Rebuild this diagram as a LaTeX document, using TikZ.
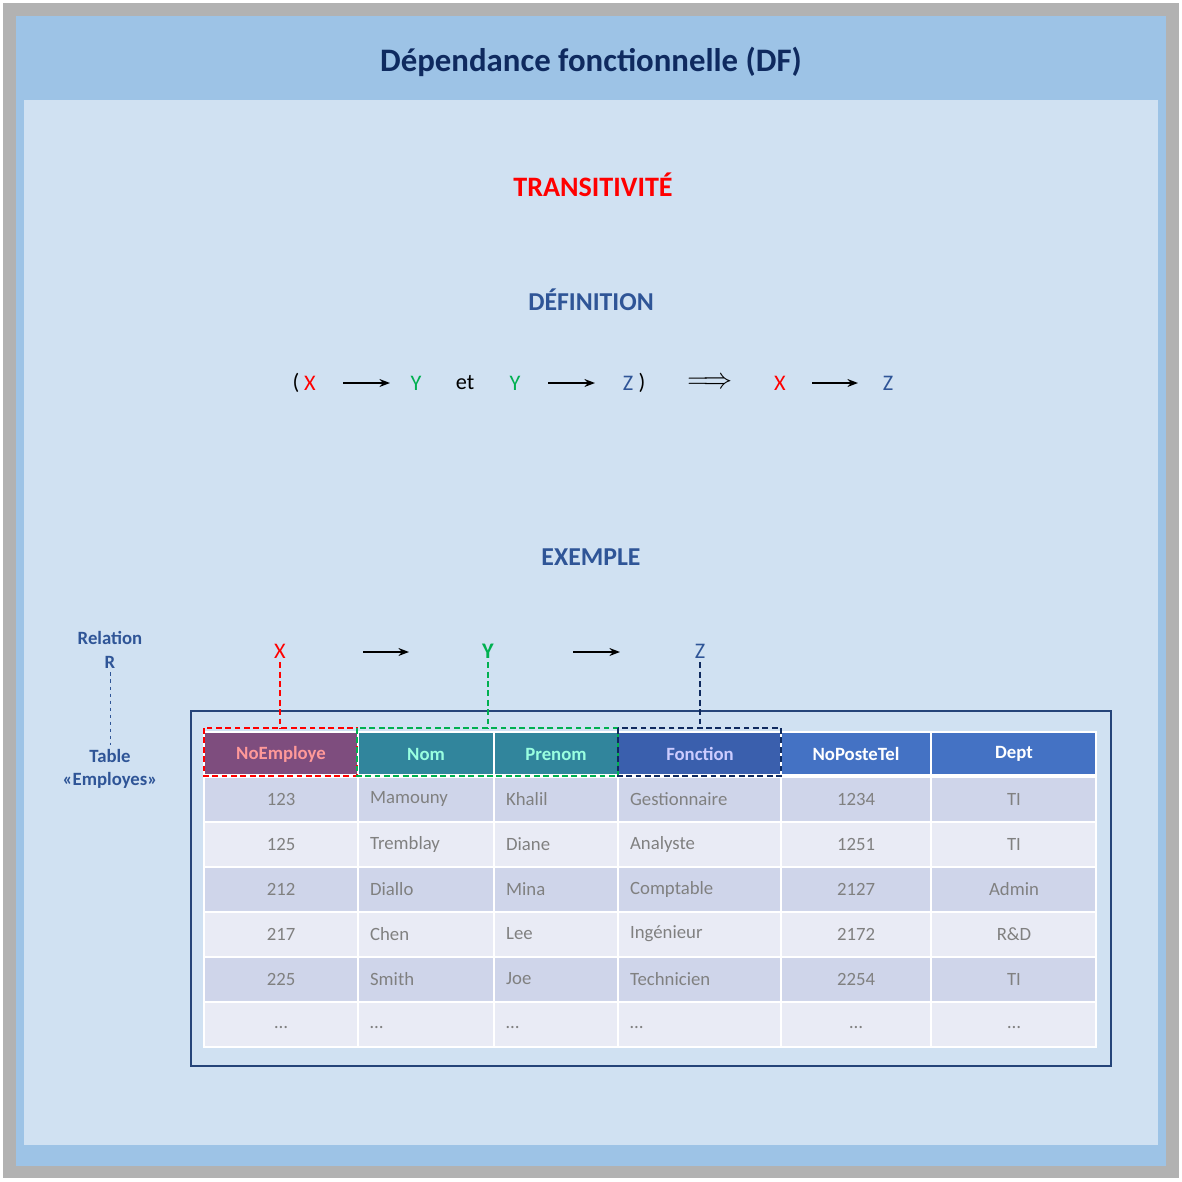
\documentclass[tikz,border=0pt]{standalone}
\usepackage{fontspec}
\setmainfont{Carlito}
\usetikzlibrary{arrows.meta}
\definecolor{navy}{HTML}{0F2A5F}
\definecolor{defblue}{HTML}{2F5597}
\definecolor{zblue}{HTML}{2F5597}
\definecolor{ygreen}{HTML}{00B050}
\definecolor{barblue}{HTML}{9DC3E6}
\definecolor{bodyblue}{HTML}{D0E1F2}
\definecolor{rowa}{HTML}{CFD5EA}
\definecolor{rowb}{HTML}{E9EBF5}
\definecolor{hpurple}{HTML}{7E4D7E}
\definecolor{hteal}{HTML}{31859C}
\definecolor{hfonc}{HTML}{3A5FAD}
\definecolor{hblue}{HTML}{4472C4}
\tikzstyle{cell}=[text=black!50, font=\fontsize{16}{16}\selectfont]
\tikzstyle{sym}=[font=\fontsize{19}{19}\selectfont]
\tikzstyle{ar}=[-{Stealth[length=9pt]}, line width=1.6pt]
\tikzstyle{grp}=[line width=2pt, dash pattern=on 5pt off 3pt]
\begin{document}
\begin{tikzpicture}[x=0.3mm,y=-0.3mm]
\useasboundingbox (0,0) rectangle (1182,1181);
% frame
\fill[black!30] (3,3) rectangle (1179,1178);
\fill[barblue] (16,16) rectangle (1166,1166);
\fill[bodyblue] (24,100) rectangle (1158,1145);
\node[text=navy, font=\fontsize{28}{28}\bfseries] (title) at (591,62) {Dépendance fonctionnelle (DF)};
\node[text=red, font=\fontsize{24}{24}\bfseries] (trans) at (593,185) {TRANSITIVITÉ};
\node[text=defblue, font=\fontsize{22}{22}\bfseries] (def) at (591,300) {DÉFINITION};
\node[text=defblue, font=\fontsize{22}{22}\bfseries] (ex) at (591,557) {EXEMPLE};

% definition
\node[sym] (lp) at (296,383) {(};
\node[sym, text=red] (x1) at (310,383) {X};
\node[sym, text=ygreen] (y1) at (416,383) {Y};
\node[sym] (et) at (465,383) {et};
\node[sym, text=ygreen] (y2) at (515,383) {Y};
\node[sym, text=zblue] (z1) at (628,383) {Z};
\node[sym] (rp) at (642,383) {)};
\node[sym, font=\fontsize{24}{24}\selectfont] (impl) at (710,383) {$\Longrightarrow$};
\node[sym, text=red] (x2) at (780,383) {X};
\node[sym, text=zblue] (z2) at (888,383) {Z};
\draw[ar] (343,383) -- (390,383);
\draw[ar] (548,383) -- (595,383);
\draw[ar] (812,383) -- (858,383);

% relation
\node[text=defblue, font=\fontsize{16}{16}\bfseries, align=center] (rel) at (110,650) {Relation\\[4pt]R};
\node[text=defblue, font=\fontsize{16}{16}\bfseries, align=center] (tab) at (110,769) {Table\\[4pt]«Employes»};
\draw[defblue, thick, dashed] (rel.south) -- (tab.north);

% X -> Y -> Z
\node[sym, text=red] (xe) at (280,651) {X};
\node[sym, text=ygreen, font=\fontsize{19}{19}\bfseries] (ye) at (488,651) {Y};
\node[sym, text=zblue] (ze) at (700,651) {Z};
\draw[ar] (363,652) -- (409,652);
\draw[ar] (573,652) -- (620,652);

% table
\draw[defblue!80!black, line width=2pt] (191,711) rectangle (1111,1066);
\foreach \ya/\yb/\col in {777/822/rowa,822/867/rowb,867/912/rowa,912/957/rowb,957/1002/rowa,1002/1047/rowb}
  \fill[\col] (204,\ya) rectangle (1096,\yb);
\foreach \y in {822,867,912,957,1002} \draw[white, line width=2pt] (204,\y) -- (1096,\y);
\foreach \x in {358,494,618,781,931} \draw[white, line width=2pt] (\x,777) -- (\x,1047);
\draw[white, line width=2pt] (204,777) rectangle (1096,1047);

\fill[hpurple] (204,732) rectangle (358,775);
\fill[hteal] (358,732) rectangle (618,775);
\fill[hfonc] (618,732) rectangle (781,775);
\fill[hblue] (781,732) rectangle (1096,775);
\foreach \x in {358,494,618,781,931} \draw[white, line width=2pt] (\x,732) -- (\x,775);
\draw[white, line width=2pt] (204,732) rectangle (1096,775);
\node[font=\fontsize{16}{16}\bfseries, text=red!40] (hNo) at (281,754) {NoEmploye};
\node[font=\fontsize{16}{16}\bfseries, text=green!30!cyan!40] (hNom) at (426,754) {Nom};
\node[font=\fontsize{16}{16}\bfseries, text=green!30!cyan!40] (hPre) at (556,754) {Prenom};
\node[font=\fontsize{16}{16}\bfseries, text=white!80!blue] (hFon) at (700,754) {Fonction};
\node[font=\fontsize{16}{16}\bfseries, text=white] (hTel) at (856,754) {NoPosteTel};
\node[font=\fontsize{16}{16}\bfseries, text=white] (hDep) at (1014,754) {Dept};

\foreach \y/\a/\b/\c/\d/\e/\f in {
  799/123/Mamouny/Khalil/Gestionnaire/1234/TI,
  844/125/Tremblay/Diane/Analyste/1251/TI,
  889/212/Diallo/Mina/Comptable/2127/Admin,
  934/217/Chen/Lee/Ingénieur/2172/R\&D,
  979/225/Smith/Joe/Technicien/2254/TI,
  1027/\ldots/\ldots/\ldots/\ldots/\ldots/\ldots}{
  \node[cell] at (281,\y) {\a};
  \node[cell, anchor=west] at (366,\y) {\b};
  \node[cell, anchor=west] at (502,\y) {\c};
  \node[cell, anchor=west] at (626,\y) {\d};
  \node[cell] at (856,\y) {\e};
  \node[cell] at (1014,\y) {\f};
}

% dashed groups
\coordinate (gx) at (280,728);
\coordinate (gy) at (488,728);
\coordinate (gz) at (700,728);
\draw[grp, red] (204,728) rectangle (357,776);
\draw[grp, ygreen] (357,728) rectangle (618,776);
\draw[grp, navy] (618,728) rectangle (781,776);
\draw[grp, red] (xe.south) -- (gx);
\draw[grp, ygreen] (ye.south) -- (gy);
\draw[grp, navy] (ze.south) -- (gz);
\end{tikzpicture}
\end{document}
